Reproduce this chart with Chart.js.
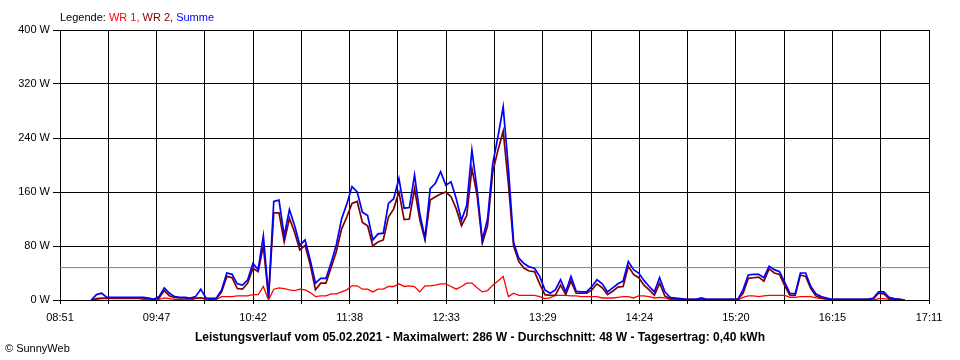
<!DOCTYPE html>
<html><head><meta charset="utf-8">
<script src="https://cdn.jsdelivr.net/npm/chart.js@4/dist/chart.umd.min.js"></script>
<style>html,body{margin:0;padding:0;background:#fff;}#wrap{width:960px;height:360px;position:relative;}</style>
</head><body><div id="wrap"><canvas id="c" width="960" height="360"></canvas></div>
<script>
const times = ['09:09','09:12','09:15','09:18','09:21','09:24','09:27','09:30','09:33','09:36','09:39','09:42','09:45','09:48','09:51','09:54','09:57','10:00','10:03','10:06','10:09','10:12','10:15','10:18','10:21','10:24','10:27','10:30','10:33','10:36','10:39','10:42','10:45','10:48','10:51','10:54','10:57','11:00','11:03','11:06','11:09','11:12','11:15','11:18','11:21','11:24','11:27','11:30','11:33','11:36','11:39','11:42','11:45','11:48','11:51','11:54','11:57','12:00','12:03','12:06','12:09','12:12','12:15','12:18','12:21','12:24','12:27','12:30','12:33','12:36','12:39','12:42','12:45','12:48','12:51','12:54','12:57','13:00','13:03','13:06','13:09','13:12','13:15','13:18','13:21','13:24','13:27','13:30','13:33','13:36','13:39','13:42','13:45','13:48','13:51','13:54','13:57','14:00','14:03','14:06','14:09','14:12','14:15','14:18','14:21','14:24','14:27','14:30','14:33','14:36','14:39','14:42','14:45','14:48','14:51','14:54','14:57','15:00','15:03','15:06','15:09','15:12','15:15','15:18','15:21','15:24','15:27','15:30','15:33','15:36','15:39','15:42','15:45','15:48','15:51','15:54','15:57','16:00','16:03','16:06','16:09','16:12','16:15','16:18','16:21','16:24','16:27','16:30','16:33','16:36','16:39','16:42','16:45','16:48','16:51','16:54','16:57'];
const summe = [0,8,10,4,4,4,4,4,4,4,4,3,1,5,18,10,5,4,4,3,5,16,3,2,3,15,40,38,24,22,30,54,45,95,5,146,148,95,134,110,81,89,59,25,32,32,55,82,120,142,168,160,130,125,89,98,99,143,150,180,136,137,185,128,92,165,173,190,170,175,150,118,140,222,163,89,120,202,242,286,195,85,62,54,49,47,35,15,10,15,30,12,35,13,12,12,20,30,24,12,18,24,28,57,45,40,29,20,12,33,12,4,3,2,1,1,1,3,1,1,1,1,1,1,1,15,37,38,38,33,50,45,42,26,10,9,40,40,20,9,5,3,1,1,1,1,1,1,1,1,3,12,12,4,2,1,0];
const wr2 = [0,2,3,3,3,3,3,3,3,3,3,2,1,3,14,6,4,3,3,2,3,3,2,2,2,12,35,33,17,16,25,47,42,80,3,129,129,86,121,100,74,81,52,15,25,25,48,72,105,123,143,146,115,110,80,86,89,123,135,160,119,120,165,119,89,148,153,157,160,153,135,110,125,195,155,84,110,190,222,250,172,80,57,47,43,42,24,8,7,7,22,8,28,10,10,10,15,24,18,8,13,19,20,50,38,33,22,15,7,25,6,2,2,1,1,1,1,1,1,1,1,1,1,1,1,10,32,33,34,28,46,40,38,21,7,7,37,35,17,6,3,2,1,1,1,1,1,1,1,1,2,10,9,2,1,1,0];
const wr1 = [0,1,2,2,2,2,2,2,2,2,1,0,0,1,3,2,1,1,1,0,2,3,1,1,1,5,5,5,6,6,6,8,8,20,0,16,18,17,15,14,16,15,11,5,6,6,9,9,12,15,21,21,16,16,12,16,16,20,20,24,20,21,20,12,21,21,22,24,24,20,16,20,25,25,18,12,14,22,28,35,5,10,7,7,7,7,5,2,3,7,7,7,6,6,5,5,5,5,3,3,3,4,5,5,3,6,6,5,3,4,3,1,1,0,0,0,0,0,0,0,0,0,0,0,0,4,6,6,5,6,7,7,7,7,4,4,5,5,5,3,2,1,0,0,0,0,0,0,0,0,0,2,2,1,0,0,0];
const xTickLabels = ['08:51','09:47','10:42','11:38','12:33','13:29','14:24','15:20','16:15','17:11'];
const yTicks = [0,80,160,240,320,400];
const average = 48;
const legendParts = [['Legende: ','#000000'],['WR 1, ','#FF0000'],['WR 2, ','#800000'],['Summe','#0000FF']];
const titleText = 'Leistungsverlauf vom 05.02.2021 - Maximalwert: 286 W - Durchschnitt: 48 W - Tagesertrag: 0,40 kWh';
const copyrightText = '\u00A9 SunnyWeb';

function toMin(s){const p=s.split(':');return (+p[0])*60+(+p[1]);}
const xMin = toMin(xTickLabels[0]);
const xMax = toMin(xTickLabels[xTickLabels.length-1]);
const pts = arr => times.map((t,i)=>({x:toMin(t),y:arr[i]}));
const FONT = "'Liberation Sans', Arial, sans-serif";

const textPlugin = {
  id:'texts',
  afterDraw(chart){
    const ctx = chart.ctx;
    ctx.save();
    ctx.textBaseline='alphabetic';
    ctx.font = '11px '+FONT;
    let x = 60;
    for (const [txt,col] of legendParts){ ctx.fillStyle=col; ctx.fillText(txt,x,21); x += ctx.measureText(txt).width; }
    ctx.font = 'bold 12px '+FONT;
    ctx.fillStyle='#000';
    ctx.textAlign='center';
    const w = ctx.measureText(titleText).width;
    const target = 582;
    ctx.translate(480,341);
    ctx.scale(Math.min(1,target/w),1);
    ctx.fillText(titleText,0,0);
    ctx.restore();
    ctx.save();
    ctx.font = '11px '+FONT;
    ctx.fillStyle='#000';
    ctx.fillText(copyrightText,5,352);
    ctx.restore();
  }
};

new Chart(document.getElementById('c'),{
  type:'line',
  data:{datasets:[
    {label:'Summe',data:pts(summe),borderColor:'#0000FF',borderWidth:1.7,pointRadius:0,tension:0,order:0},
    {label:'WR 2',data:pts(wr2),borderColor:'#800000',borderWidth:1.7,pointRadius:0,tension:0,order:1},
    {label:'WR 1',data:pts(wr1),borderColor:'#FF0000',borderWidth:1.3,pointRadius:0,tension:0,order:2},
    {label:'avg',data:[{x:xMin,y:average},{x:xMax,y:average}],borderColor:'#808080',borderWidth:1,pointRadius:0,order:3}
  ]},
  options:{
    responsive:false,animation:false,devicePixelRatio:1,
    layout:{padding:{top:30,right:31,left:0,bottom:0}},
    plugins:{legend:{display:false},tooltip:{enabled:false},title:{display:false}},
    scales:{
      x:{type:'linear',min:xMin,max:xMax,
        afterBuildTicks:s=>{const t=[];for(let i=0;i<=18;i++)t.push({value:xMin+i*(xMax-xMin)/18});s.ticks=t;},
        afterFit:s=>{s.height=60;},
        ticks:{autoSkip:false,maxRotation:0,color:'#000',padding:7,font:{family:FONT,size:11},
          callback:(v,i)=> i%2===0 ? xTickLabels[i/2] : ''},
        grid:{color:'#000',lineWidth:1,tickLength:4,drawTicks:true},
        border:{color:'#000',width:1}},
      y:{min:0,max:400,
        afterBuildTicks:s=>{s.ticks=yTicks.map(v=>({value:v}));},
        afterFit:s=>{s.width=60;},
        ticks:{color:'#000',padding:3,font:{family:FONT,size:11},callback:v=>v+' W'},
        grid:{color:'#000',lineWidth:1,tickLength:7,drawTicks:true},
        border:{color:'#000',width:1}}
    }
  },
  plugins:[textPlugin]
});
</script></body></html>
